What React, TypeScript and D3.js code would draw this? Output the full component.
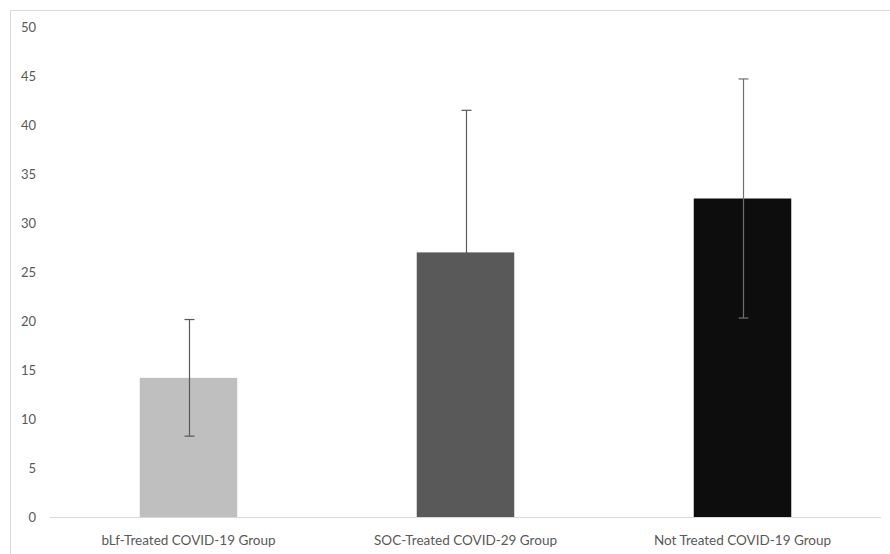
import React from "react";
import * as d3 from "d3";

const categories = [
  "bLf-Treated COVID-19 Group",
  "SOC-Treated COVID-29 Group",
  "Not Treated COVID-19 Group",
];
const means = [14.2, 27.0, 32.5];
const errors = [5.95, 14.5, 12.2];
const barColors = ["#bfbfbf", "#595959", "#0d0d0d"];
const yTicks = [0, 5, 10, 15, 20, 25, 30, 35, 40, 45, 50];

const W = 890;
const H = 554;
const plot = { left: 50, right: 881, top: 27, bottom: 517 };
const font = "Lato, 'Open Sans', sans-serif";

export default function App() {
  const x = d3
    .scaleBand<string>()
    .domain(categories)
    .range([plot.left, plot.right])
    .paddingInner(0.648)
    .paddingOuter(0.324);
  const y = d3.scaleLinear().domain([0, 50]).range([plot.bottom, plot.top]);
  const cap = 5;

  return (
    <svg
      width={W}
      height={H}
      style={{ position: "absolute", left: 0, top: 0, background: "#fff" }}
    >
      {/* chart frame */}
      <path d={`M10.5,${H} V10.5 H${W}`} fill="none" stroke="#d9d9d9" strokeWidth={1} />

      {/* y tick labels */}
      {yTicks.map((t) => (
        <text
          key={t}
          x={36}
          y={y(t)}
          dy="0.35em"
          textAnchor="end"
          fontFamily={font}
          fontSize={13}
          fill="#595959"
        >
          {t}
        </text>
      ))}

      {/* bars */}
      {categories.map((c, i) => (
        <rect
          key={c}
          x={x(c)!}
          y={y(means[i])}
          width={x.bandwidth()}
          height={y(0) - y(means[i])}
          fill={barColors[i]}
        />
      ))}

      {/* x axis line */}
      <line
        x1={plot.left}
        x2={plot.right}
        y1={plot.bottom + 0.5}
        y2={plot.bottom + 0.5}
        stroke="#d9d9d9"
        strokeWidth={1}
      />

      {/* error bars */}
      {categories.map((c, i) => {
        const cx = Math.round(x(c)! + x.bandwidth() / 2) + 0.5;
        const hi = y(means[i] + errors[i]);
        const lo = y(means[i] - errors[i]);
        const stroke = i === 2 ? "#6f6f6f" : "#595959";
        return (
          <g key={c} stroke={stroke} strokeWidth={1.2} fill="none">
            <line x1={cx} x2={cx} y1={hi} y2={lo} />
            <line x1={cx - cap} x2={cx + cap} y1={hi} y2={hi} />
            <line x1={cx - cap} x2={cx + cap} y1={lo} y2={lo} />
          </g>
        );
      })}

      {/* category labels */}
      {categories.map((c) => (
        <text
          key={c}
          x={x(c)! + x.bandwidth() / 2}
          y={540}
          dy="0.35em"
          textAnchor="middle"
          fontFamily={font}
          fontSize={13.5}
          fill="#595959"
        >
          {c}
        </text>
      ))}
    </svg>
  );
}
